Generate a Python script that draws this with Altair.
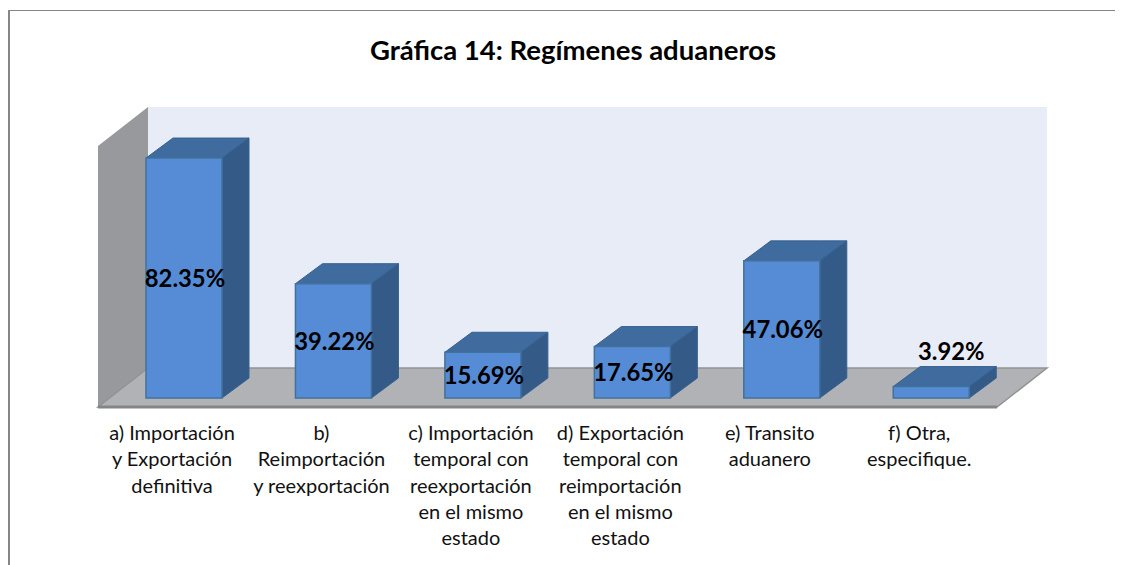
import altair as alt
import pandas as pd

# ---- data ----
categories = [
    "a) Importación\ny Exportación\ndefinitiva",
    "b)\nReimportación\ny reexportación",
    "c) Importación\ntemporal con\nreexportación\nen el  mismo\nestado",
    "d) Exportación\ntemporal con\nreimportación\nen el mismo\nestado",
    "e) Transito\naduanero",
    "f) Otra,\nespecifique.",
]
values = [82.35, 39.22, 15.69, 17.65, 47.06, 3.92]
title_text = "Gráfica 14: Regímenes aduaneros"

# ---- scale geometry (pixels <-> data units) ----
W, H = 1107, 557
PX_CAT = 149.45          # px per category
PX_VAL = 2.914           # px per percent
ORIGIN_X = 176.0         # px of first bar centre in chart
ORIGIN_Y = 390.0         # px of value 0 in chart
x_scale = alt.Scale(domain=[-ORIGIN_X / PX_CAT, (W - ORIGIN_X) / PX_CAT], nice=False, zero=False)
y_scale = alt.Scale(domain=[(ORIGIN_Y - H) / PX_VAL, ORIGIN_Y / PX_VAL], nice=False, zero=False)

BW = 76 / PX_CAT
DX = 27 / PX_CAT
DY = 20 / PX_VAL

# walls and floor extents in data units
AX_L = (90 - ORIGIN_X) / PX_CAT
W_DX = 50 / PX_CAT
W_DY = 39 / PX_VAL
FRONT_Y = -9 / PX_VAL
AX_R = (989 - ORIGIN_X) / PX_CAT
TOP_V = 252 / PX_VAL

wall_rows, back_rows, floor_rows, top_rows, side_rows, front_rows = [], [], [], [], [], []
edge_rows = []

back_y0 = FRONT_Y + W_DY
back_y1 = TOP_V + W_DY
xb0, xb1 = AX_L + W_DX, AX_R + W_DX
back_rows += [dict(x=xb0, y=back_y0, y2=back_y1), dict(x=xb1, y=back_y0, y2=back_y1)]
wall_rows += [dict(x=AX_L, y=FRONT_Y, y2=TOP_V), dict(x=xb0, y=back_y0, y2=back_y1)]
floor_rows += [
    dict(x=AX_L, y=FRONT_Y, y2=FRONT_Y),
    dict(x=xb0, y=FRONT_Y, y2=back_y0),
    dict(x=AX_R, y=FRONT_Y, y2=back_y0),
    dict(x=xb1, y=back_y0, y2=back_y0),
]
edge_rows += [dict(x=AX_L, y=FRONT_Y), dict(x=AX_R, y=FRONT_Y)]

for i, v in enumerate(values):
    x0, x1 = i - BW / 2, i + BW / 2
    top_rows += [
        dict(k=i, x=x0, y=v, y2=v),
        dict(k=i, x=x0 + DX, y=v, y2=v + DY),
        dict(k=i, x=x1, y=v, y2=v + DY),
        dict(k=i, x=x1 + DX, y=v + DY, y2=v + DY),
    ]
    side_rows += [dict(k=i, x=x1, y=0, y2=v), dict(k=i, x=x1 + DX, y=DY, y2=v + DY)]
    front_rows += [dict(k=i, x=x0, y=0, x2=x1, y2=v)]

labels = []
for i, v in enumerate(values):
    small = v < 5
    labels.append(dict(
        x=i + (19 / PX_CAT if small else 0),
        y=(47 / PX_VAL) if small else v / 2,
        t=f"{v:.2f}%",
    ))
cats = [dict(x=i - 12 / PX_CAT, y=-26 / PX_VAL, t=c) for i, c in enumerate(categories)]

X = alt.X("x:Q", scale=x_scale, axis=None)
Y = alt.Y("y:Q", scale=y_scale, axis=None)
Y2 = alt.Y2("y2:Q")

def area(rows, fill, stroke=None, sw=1.0, detail=False):
    kw = dict(fill=fill, line=False)
    if stroke:
        kw.update(stroke=stroke, strokeWidth=sw)
    enc = dict(x=X, y=Y, y2=Y2)
    if detail:
        enc["detail"] = "k:N"
    return alt.Chart(pd.DataFrame(rows)).mark_area(interpolate="linear", **kw).encode(**enc)

back = area(back_rows, "#E8ECF6")
wall = area(wall_rows, "#98999C")
floor = area(floor_rows, "#B0B2B6", "#929292", 1.5)
edge = alt.Chart(pd.DataFrame(edge_rows)).mark_line(color="#858585", strokeWidth=3).encode(x=X, y=Y)
top = area(top_rows, "#3F6B9F", "#37618F", 1, True)
side = area(side_rows, "#345A88", "#37618F", 1, True)
front = alt.Chart(pd.DataFrame(front_rows)).mark_rect(
    fill="#568CD6", stroke="#41719C", strokeWidth=1.5
).encode(x=X, x2="x2:Q", y=Y, y2=Y2)

value_text = alt.Chart(pd.DataFrame(labels)).mark_text(
    font="Lato", fontWeight="bold", fontSize=23.8, color="#000000", baseline="middle", align="center", dy=2, dx=1
).encode(x=X, y=Y, text="t:N")
cat_text = alt.Chart(pd.DataFrame(cats)).mark_text(
    font="Lato", fontSize=20, color="#111111", baseline="top", align="center",
    lineBreak="\n", lineHeight=26.3
).encode(x=X, y=Y, text="t:N")
title = alt.Chart(pd.DataFrame([dict(t=title_text)])).mark_text(
    font="Lato", fontWeight="bold", fontSize=27.5, color="#000000", baseline="middle", align="center"
).encode(x=alt.value(565), y=alt.value(43.5), text="t:N")

border_top = alt.Chart(pd.DataFrame([dict(a=1)])).mark_rule(color="#868686", strokeWidth=1).encode(
    x=alt.value(0), x2=alt.value(W), y=alt.value(2.5))
border_left = alt.Chart(pd.DataFrame([dict(a=1)])).mark_rule(color="#868686", strokeWidth=2).encode(
    x=alt.value(1), y=alt.value(2), y2=alt.value(H))

chart = alt.layer(
    back, wall, floor, edge, top, side, front, value_text, cat_text, title, border_top, border_left
).properties(
    width=W, height=H, padding=0, autosize=alt.AutoSizeParams(type="none")
).configure_view(stroke=None)

chart.save("out.html", embed_options={"renderer": "svg", "actions": False})
